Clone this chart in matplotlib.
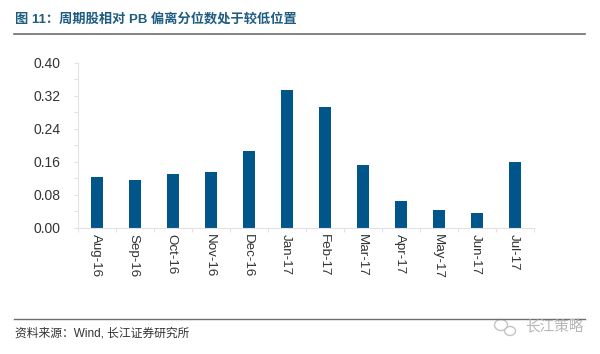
import matplotlib
matplotlib.use('Agg')
import matplotlib.pyplot as plt
from matplotlib.lines import Line2D
from matplotlib.patches import Ellipse

plt.rcParams['font.family'] = ['Liberation Sans', 'Noto Sans CJK SC', 'DejaVu Sans']

months = ['Aug-16', 'Sep-16', 'Oct-16', 'Nov-16', 'Dec-16', 'Jan-17',
          'Feb-17', 'Mar-17', 'Apr-17', 'May-17', 'Jun-17', 'Jul-17']
values = [0.122, 0.115, 0.130, 0.135, 0.186, 0.335,
          0.293, 0.151, 0.064, 0.043, 0.035, 0.159]
y_ticks = [0.00, 0.08, 0.16, 0.24, 0.32, 0.40]
y_minor = [0.04, 0.12, 0.20, 0.28, 0.36]

W, H = 600, 354
fig = plt.figure(figsize=(W / 100, H / 100), dpi=100)
ax = fig.add_axes([78 / W, 1 - 227.5 / H, 456 / W, 164.5 / H])

x = list(range(len(months)))
ax.bar(x, values, width=0.335, color='#00568A')
ax.set_xlim(-0.5, 11.5)
ax.set_ylim(0, 0.40)

for s in ['top', 'right']:
    ax.spines[s].set_visible(False)
for s in ['left', 'bottom']:
    ax.spines[s].set_color('#E2E2E2')
    ax.spines[s].set_linewidth(0.8)

ax.set_yticks(y_ticks)
ax.set_yticklabels([f'{v:.2f}' for v in y_ticks], fontsize=10, color='#333333')
ax.set_yticks(y_minor, minor=True)
ax.tick_params(axis='y', which='both', color='#E2E2E2', length=3, width=0.8, pad=9.5)

# ticks sit between the categories, labels under the bars
ax.set_xticks([i - 0.5 for i in range(13)])
ax.set_xticklabels([])
ax.tick_params(axis='x', color='#E2E2E2', length=3, width=0.8)
for i, m in enumerate(months):
    ax.annotate(m, (i, 0), xytext=(-1, -5), textcoords='offset points',
                rotation=-90, ha='center', va='top', fontsize=9.6, color='#333333')

# title and source, with their rules
fig.text(15 / W, 1 - 19.5 / H, '图 11：周期股相对 PB 偏离分位数处于较低位置', fontsize=9.5,
         fontweight='bold', color='#1F5C82', va='center')
fig.add_artist(Line2D([14 / W, 585 / W], [1 - 34 / H] * 2, color='#6E6E6E', lw=1.2))
fig.add_artist(Line2D([14 / W, 585 / W], [1 - 319 / H] * 2, color='#6E6E6E', lw=1.0))
fig.text(15 / W, 1 - 334 / H, '资料来源：Wind, 长江证券研究所', fontsize=8.5,
         color='#333333', va='center')

# watermark
fig.text(525 / W, 1 - 327 / H, '长江策略', fontsize=10.5, color='#B5B5B5', va='center')
fig.add_artist(Ellipse((501 / W, 1 - 325 / H), 13 / W, 11 / H, fill=False, ec='#C4C4C4', lw=1))
fig.add_artist(Ellipse((510 / W, 1 - 331 / H), 11 / W, 9 / H, fill=False, ec='#C4C4C4', lw=1))

plt.savefig('out.png', dpi=100)
